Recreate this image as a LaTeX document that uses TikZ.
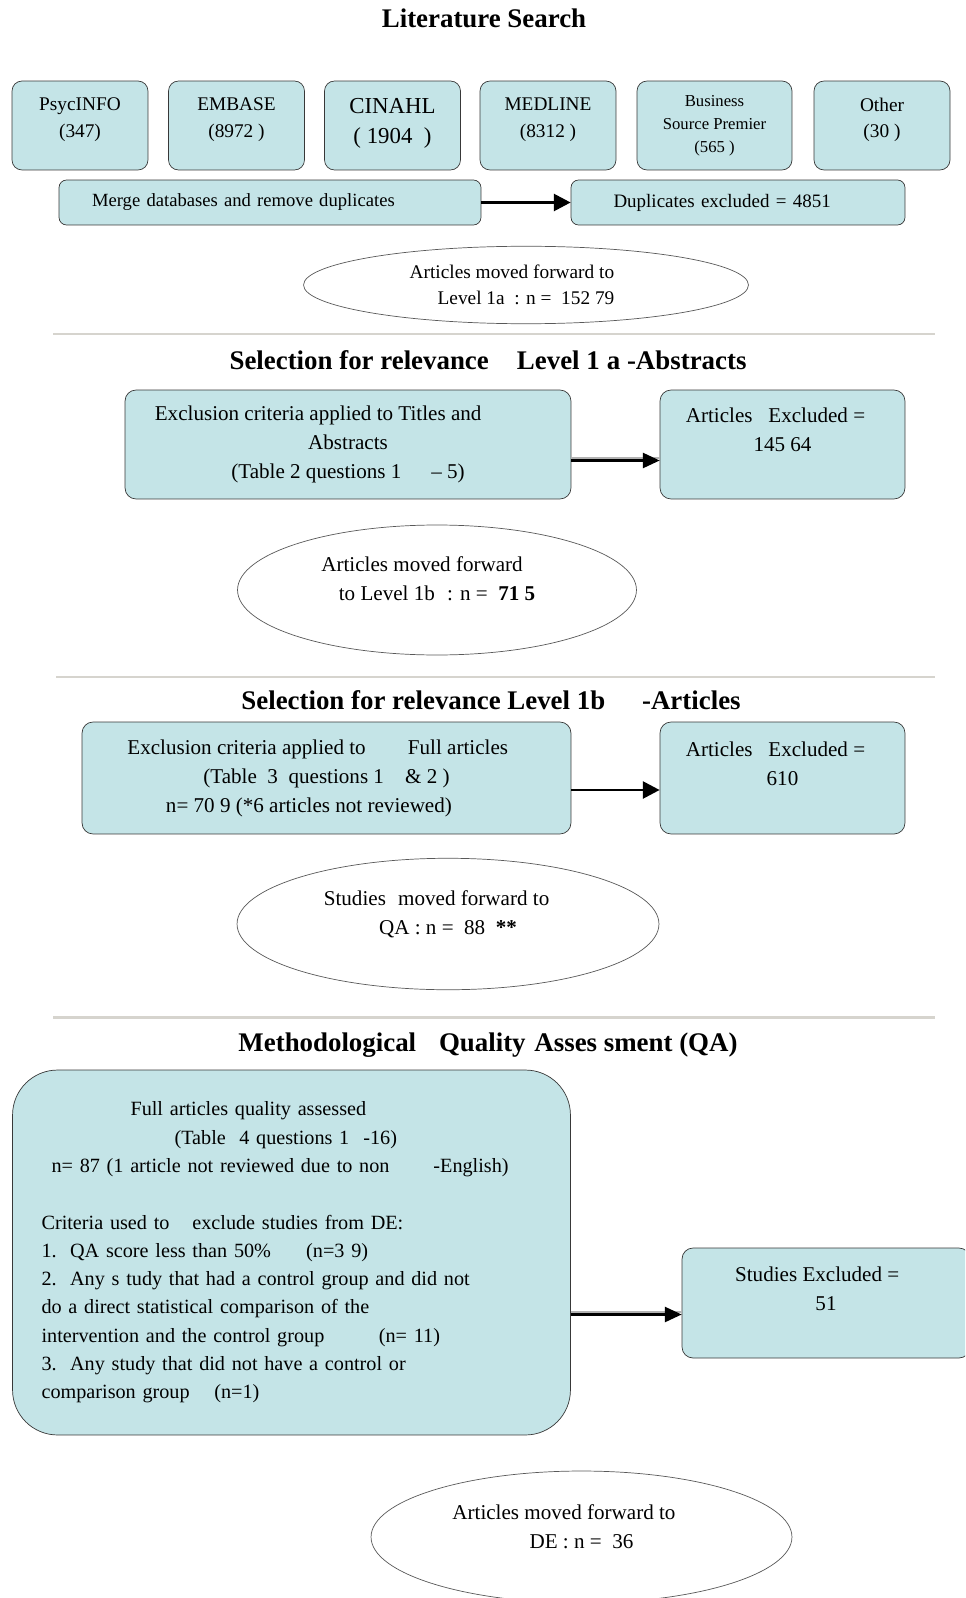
\documentclass[tikz,border=0pt]{standalone}
\usepackage{fontspec}
\setmainfont{Liberation Serif}
\usetikzlibrary{arrows.meta,shapes.geometric}

\definecolor{boxfill}{HTML}{C4E4E7}
\definecolor{boxline}{HTML}{383838}
\definecolor{rulegray}{HTML}{D6D4CE}

\tikzset{
    dbbox/.style={draw=boxline, fill=boxfill, rounded corners=0.2cm, inner sep=0pt,
        minimum width=2.72cm, minimum height=1.78cm, align=center,
        font=\fontsize{11}{15}\selectfont},
    flowbox/.style={draw=boxline, fill=boxfill, rounded corners=0.22cm, inner sep=0pt,
        align=center, font=\fontsize{12}{16.5}\selectfont},
    movedell/.style={ellipse, draw=gray!70!black, fill=white, inner sep=0pt,
        align=center, font=\fontsize{12}{16.5}\selectfont},
    heading/.style={font=\fontsize{15.3}{18}\selectfont\bfseries},
    sepline/.style={draw=rulegray, line width=1.7pt},
    thickarrow/.style={line width=1.7pt, -{Triangle[length=9.5pt,width=9.5pt]}},
    dblarrow/.style={line width=1.3pt, -{Triangle[length=9.5pt,width=8.5pt]},
        preaction={draw=gray!60, line width=1pt, arrows=-, transform canvas={yshift=1.4pt}}},
}

\begin{document}
\begin{tikzpicture}[x=0.02cm, y=-0.02cm]
    \useasboundingbox (0,0) rectangle (965,1598);
    \clip (0,0) rectangle (965,1598);

    %% Literature search
    \begin{scope}
        \node[heading] (littitle) at (484,18) {Literature Search};

        \node[dbbox] (psycinfo) at (80,125.5) {PsycINFO\\(347)\\[-6.2pt]~};
        \node[dbbox] (embase) at (236.5,125.5) {EMBASE\\(8972 )\\[-6.2pt]~};
        \node[dbbox, font=\fontsize{13}{16.8}\selectfont] (cinahl) at (392.5,125.5) {CINAHL\\( 1904\ \ )\\[-11.8pt]~};
        \node[dbbox] (medline) at (548,125.5) {MEDLINE\\(8312 )\\[-6.2pt]~};
        \node[dbbox, minimum width=3.1cm, font=\fontsize{9.5}{13}\selectfont] (business) at (714.5,125.5) {Business\\Source Premier\\(565 )};
        \node[dbbox] (other) at (882,125.5) {Other\\(30 )\\[-6.2pt]~};

        \node[flowbox, font=\fontsize{10.6}{15}\selectfont, rounded corners=0.15cm, align=left,
            text width=7.12cm, inner xsep=0.66cm, minimum height=0.9cm] (merge) at (270,202.5)
            {Merge databases and remove duplicates};
        \node[flowbox, font=\fontsize{10.8}{15}\selectfont, rounded corners=0.15cm, align=left,
            text width=4.98cm, inner xsep=0.85cm, minimum height=0.9cm] (dupl) at (738,202.5)
            {Duplicates excluded = 4851};
        \draw[thickarrow] (merge) -- (dupl);

        \node[movedell, minimum width=8.9cm, minimum height=1.55cm, font=\fontsize{11}{15}\selectfont] (level1a) at (526,285)
            {Articles moved forward to\hspace*{16pt}\\Level 1a\ \ : n =\ \ 152 79};
    \end{scope}

    \draw[sepline] (53,334) -- (935,334);

    %% Level 1a
    \begin{scope}
        \node[heading] (abstitle) at (488,360) {Selection for relevance\hspace{16pt}Level 1\hspace{4pt}a -Abstracts};

        \node[flowbox, minimum width=8.92cm, minimum height=2.18cm] (abscrit) at (348,444.5)
            {Exclusion criteria applied to Titles and\hspace*{34pt}\\Abstracts\\(Table 2 questions 1\hspace{17pt}-- 5)};
        \node[flowbox, minimum width=4.9cm, minimum height=2.18cm] (absexcl) at (782.5,444.5)
            {Articles\hspace{9pt}Excluded =\hspace*{8pt}\\145 64\\~};
        \draw[dblarrow] ([yshift=-0.32cm]abscrit.east) -- ([yshift=-0.32cm]absexcl.west);

        \node[movedell, minimum width=7.98cm, minimum height=2.6cm] (level1b) at (437,590)
            {Articles moved forward\hspace*{17pt}\\to Level 1b\hspace{7pt}: n =\ \ \textbf{71 5}\\[-4pt]~};
    \end{scope}

    \draw[sepline] (56,677) -- (935,677);

    %% Level 1b
    \begin{scope}
        \node[heading] (arttitle) at (491,700) {Selection for relevance Level 1b\hspace{21pt}-Articles};

        \node[flowbox, minimum width=9.78cm, minimum height=2.24cm] (artcrit) at (326.5,778)
            {Exclusion criteria applied to\hspace{24pt}Full articles\hspace*{10pt}\\(Table\ \ 3\ \ questions 1\hspace{12pt}\& 2 )\\n= 70 9 (*6 articles not reviewed)\hspace*{20pt}};
        \node[flowbox, minimum width=4.9cm, minimum height=2.24cm] (artexcl) at (782.5,778)
            {Articles\hspace{9pt}Excluded =\hspace*{8pt}\\610\\~};
        \draw[thickarrow] ([yshift=-0.24cm]artcrit.east) -- ([yshift=-0.24cm]artexcl.west);

        \node[movedell, minimum width=8.44cm, minimum height=2.63cm] (toqa) at (448,924)
            {Studies\hspace{7pt}moved forward to\hspace*{13pt}\\QA : n =\ \ 88\ \ \textbf{**}\\[-4pt]~};
    \end{scope}

    \draw[sepline] (53,1017) -- (935,1017);

    %% Quality assessment
    \begin{scope}
        \node[heading] (qatitle) at (488,1045) {Methodological\hspace{13pt}Quality\hspace{5pt}Asses sment (QA)};

        \node[flowbox, font=\fontsize{11.5}{16.1}\selectfont, rounded corners=0.9cm, align=left,
            text width=10cm, inner xsep=0.58cm, minimum height=7.3cm] (qabox) at (291.5,1252.5)
            {\hspace*{1.78cm}Full articles quality assessed\\
             \hspace*{2.66cm}(Table\ \ 4 questions 1\hspace{8pt}-16)\\
             \hspace*{0.2cm}n= 87 (1 article not reviewed due to non\hspace{25pt}-English)\\[16.1pt]
             Criteria used to\hspace{13pt}exclude studies from DE:\\
             1.\ \ QA score less than 50\%\hspace{20pt}(n=3 9)\\
             2.\ \ Any s tudy that had a control group and did not\\
             do a direct statistical comparison of the\\
             intervention and the control group\hspace{31pt}(n= 11)\\
             3.\ \ Any study that did not have a control or\\
             comparison group\hspace{14pt}(n=1)};
        \node[flowbox, minimum width=5.76cm, minimum height=2.2cm] (qaexcl) at (826,1303)
            {Studies Excluded =\hspace*{10pt}\\51\\~};
        \coordinate (qaarrow) at ([yshift=-0.23cm]qaexcl.west);
        \draw[dblarrow] (qabox.east |- qaarrow) -- (qaarrow);

        \node[movedell, minimum width=8.42cm, minimum height=2.64cm] (tode) at (581.5,1537)
            {Articles moved forward to\hspace*{20pt}\\DE : n =\ \ 36\\[-4.5pt]~};
    \end{scope}

\end{tikzpicture}
\end{document}
